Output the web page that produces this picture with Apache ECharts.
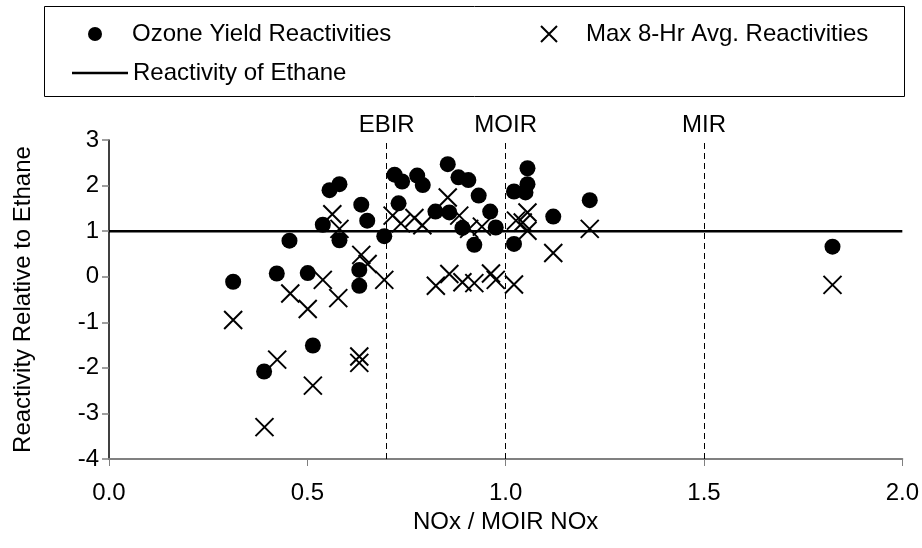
<!DOCTYPE html>
<html>
<head>
<meta charset="utf-8">
<script src="https://cdn.jsdelivr.net/npm/echarts@6/dist/echarts.min.js"></script>
<style>html,body{margin:0;padding:0;background:#fff;}#c{width:922px;height:548px;}</style>
</head>
<body>
<div id="c"></div>
<script>
// Ozone Yield Reactivities (dots)
const ozoneX = [0.313,0.391,0.423,0.455,0.501,0.514,0.539,0.556,0.581,0.581,0.631,0.631,0.636,0.651,0.694,0.720,0.739,0.730,0.777,0.791,0.823,0.854,0.858,0.881,0.891,0.906,0.921,0.932,0.961,0.975,1.021,1.021,1.050,1.055,1.055,1.120,1.212,1.824];
const ozoneY = [-0.11,-2.08,0.07,0.79,0.08,-1.51,1.14,1.90,2.03,0.80,0.15,-0.20,1.58,1.23,0.89,2.24,2.09,1.61,2.22,2.01,1.43,2.47,1.41,2.18,1.07,2.12,0.70,1.78,1.43,1.08,1.87,0.72,1.85,2.03,2.38,1.32,1.68,0.66];
// Max 8-Hr Avg. Reactivities (crosses)
const maxX = [0.313,0.392,0.424,0.457,0.501,0.514,0.539,0.563,0.581,0.578,0.631,0.631,0.636,0.652,0.694,0.715,0.736,0.770,0.790,0.824,0.854,0.858,0.883,0.891,0.908,0.921,0.940,0.963,0.975,1.021,1.026,1.043,1.055,1.055,1.120,1.212,1.824];
const maxY = [-0.95,-3.30,-1.82,-0.37,-0.71,-2.39,-0.07,1.37,1.05,-0.47,-1.75,-1.89,0.48,0.28,-0.07,1.34,1.17,1.29,1.13,-0.20,1.74,0.06,1.34,-0.12,1.05,-0.14,1.10,0.07,-0.07,-0.17,1.23,1.19,1.41,1.01,0.52,1.05,-0.18];
// Reactivity of Ethane reference level
const ethaneY = 1;
const ethaneX = [0, 2];
// Vertical scenario lines
const refLineX = [0.7, 1.0, 1.5];
const refLineLabels = ['EBIR', 'MOIR', 'MIR'];

const FONT = 'Liberation Sans, Arial, sans-serif';
const FS = 24;

const chart = echarts.init(document.getElementById('c'), null, {renderer: 'canvas'});
const crossPath = 'path://M0,0 L10,10 M10,0 L0,10';

chart.setOption({
  animation: false,
  backgroundColor: '#fff',
  textStyle: {fontFamily: FONT, color: '#000'},
  grid: {left: 109, right: 18, top: 140, bottom: 89, containLabel: false},
  graphic: [{
    type: 'rect', z: 0,
    shape: {x: 44.5, y: 6.5, width: 860, height: 90},
    style: {fill: '#fff', stroke: '#000', lineWidth: 1}
  }],
  legend: [
    {data: ['Ozone Yield Reactivities'], left: 88, top: 20, padding: 0, icon: 'circle',
     itemWidth: 64, itemHeight: 14, textStyle: {fontSize: FS, fontFamily: FONT, color: '#000', lineHeight: 28}},
    {data: ['Max 8-Hr Avg. Reactivities'], left: 540, top: 20, padding: 0,
     itemWidth: 64, itemHeight: 16, textStyle: {fontSize: FS, fontFamily: FONT, color: '#000', lineHeight: 28}},
    {data: [{name: 'Reactivity of Ethane', icon: 'rect'}], left: 72, top: 59, padding: 0,
     itemWidth: 56, itemHeight: 2.5, textStyle: {fontSize: FS, fontFamily: FONT, color: '#000', lineHeight: 28}}
  ],
  xAxis: {
    type: 'value', min: 0, max: 2, interval: 0.5,
    name: 'NOx / MOIR NOx', nameLocation: 'middle', nameGap: 50,
    nameTextStyle: {fontSize: FS, fontFamily: FONT, color: '#000'},
    axisLine: {onZero: false, lineStyle: {color: '#808080', width: 2}},
    axisTick: {show: true, length: 7, lineStyle: {color: '#808080', width: 1}},
    axisLabel: {fontSize: FS, fontFamily: FONT, color: '#000', margin: 22, formatter: v => v.toFixed(1)},
    splitLine: {show: false}
  },
  yAxis: {
    type: 'value', min: -4, max: 3, interval: 1,
    name: 'Reactivity Relative to Ethane', nameLocation: 'middle', nameGap: 74, nameRotate: 90,
    nameTextStyle: {fontSize: FS, fontFamily: FONT, color: '#000'},
    axisLine: {show: true, onZero: false, lineStyle: {color: '#000', width: 1.5}},
    axisTick: {show: true, length: 7, lineStyle: {color: '#808080', width: 1.5}},
    axisLabel: {fontSize: FS, fontFamily: FONT, color: '#000', margin: 10},
    splitLine: {show: false}
  },
  series: [
    {
      name: 'Reactivity of Ethane', type: 'line', symbol: 'none', z: 3,
      data: ethaneX.map(x => [x, ethaneY]),
      lineStyle: {color: '#000', width: 2.5},
      itemStyle: {color: '#000'},
      markLine: {
        silent: true, symbol: ['none', 'none'],
        lineStyle: {color: '#000', width: 1, type: [6, 4]},
        label: {show: true, position: 'end', fontSize: FS, fontFamily: FONT, color: '#000', distance: 3,
                formatter: p => refLineLabels[refLineX.indexOf(p.value)]},
        data: refLineX.map(x => ({xAxis: x}))
      }
    },
    {
      name: 'Ozone Yield Reactivities', type: 'scatter', symbol: 'circle', symbolSize: 16, z: 4,
      data: ozoneX.map((x, i) => [x, ozoneY[i]]),
      itemStyle: {color: '#000', opacity: 1}
    },
    {
      name: 'Max 8-Hr Avg. Reactivities', type: 'scatter', symbol: crossPath, symbolSize: 18, z: 4,
      data: maxX.map((x, i) => [x, maxY[i]]),
      itemStyle: {color: 'rgba(0,0,0,0)', borderColor: '#000', borderWidth: 2, opacity: 1}
    }
  ]
});
</script>
</body>
</html>
